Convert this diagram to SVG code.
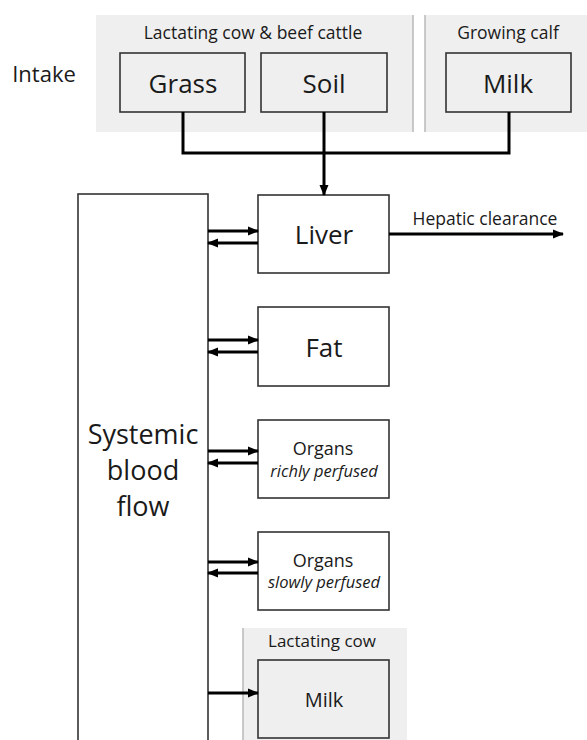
<svg xmlns="http://www.w3.org/2000/svg" width="587" height="740" viewBox="0 0 587 740">
<style>
text{font-family:"Open Sans","Liberation Sans",sans-serif;fill:#1a1a1a;text-anchor:middle}
.panel{fill:#efefef;stroke:none}
.div{stroke:#b8b8b8;stroke-width:1.5}
.box{stroke:#333;stroke-width:1.6;fill:#fff}
.gbox{stroke:#333;stroke-width:1.6;fill:#efefef}
.con{stroke:#000;stroke-width:3;fill:none}
.big{font-size:26px}
.mid{font-size:18px}
.sm{font-size:17.5px}
.it{font-size:16.5px;font-style:italic}
</style>
<defs>
<marker id="ah" markerWidth="11" markerHeight="10" refX="10" refY="5" orient="auto" markerUnits="userSpaceOnUse" viewBox="0 0 11 10">
<path d="M0,0.5 L11,5 L0,9.5 Z" fill="#000"/>
</marker>
</defs>

<g id="intake-label"><text x="44" y="82" style="font-size:22px">Intake</text></g>

<g id="panel-lactating-beef">
<rect class="panel" x="96" y="15" width="317" height="117"/>
<line class="div" x1="413" y1="15" x2="413" y2="132"/>
<text class="sm" x="253" y="39">Lactating cow &amp; beef cattle</text>
</g>
<g id="panel-growing-calf">
<rect class="panel" x="425" y="15" width="162" height="117"/>
<line class="div" x1="425" y1="15" x2="425" y2="132"/>
<text class="sm" x="508" y="39">Growing calf</text>
</g>

<g id="grass"><rect class="gbox" x="120" y="53" width="125" height="59"/><text class="big" x="183" y="93">Grass</text></g>
<g id="soil"><rect class="gbox" x="261" y="53" width="126" height="59"/><text class="big" x="324" y="93">Soil</text></g>
<g id="milk-intake"><rect class="gbox" x="446" y="53" width="125" height="59"/><text class="big" x="508" y="93">Milk</text></g>

<g id="blood"><rect class="box" x="78" y="194" width="130" height="560"/>
<text x="143" y="444" style="font-size:27px">Systemic</text>
<text x="143" y="480" style="font-size:27px">blood</text>
<text x="143" y="516" style="font-size:27px">flow</text>
</g>

<g id="liver"><rect class="box" x="258" y="195" width="131" height="78"/><text class="big" x="324" y="244">Liver</text></g>
<g id="fat"><rect class="box" x="258" y="307" width="131" height="79"/><text class="big" x="324" y="357">Fat</text></g>
<g id="organs-rich"><rect class="box" x="258" y="420" width="131" height="78"/>
<text class="mid" x="323" y="455">Organs</text><text class="it" x="324" y="477">richly perfused</text></g>
<g id="organs-slow"><rect class="box" x="258" y="532" width="131" height="78"/>
<text class="mid" x="323" y="567">Organs</text><text class="it" x="324" y="588">slowly perfused</text></g>

<g id="panel-lactating-cow">
<rect class="panel" x="243" y="628" width="164" height="112"/>
<line class="div" x1="243" y1="628" x2="243" y2="740"/>
<text x="322" y="647" style="font-size:17px">Lactating cow</text>
</g>
<g id="milk-out"><rect class="gbox" x="258" y="660" width="131" height="78"/><text style="font-size:20px" x="324" y="707">Milk</text></g>

<g id="hepatic-label"><text style="font-size:17.5px" x="485" y="225">Hepatic clearance</text></g>

<g id="connectors">
<polyline class="con" points="183,112 183,153 509,153 509,112"/>
<line class="con" x1="324" y1="112" x2="324" y2="195" marker-end="url(#ah)"/>
<line class="con" x1="389" y1="234" x2="563" y2="234" marker-end="url(#ah)"/>
<line class="con" x1="208" y1="231" x2="258" y2="231" marker-end="url(#ah)"/>
<line class="con" x1="258" y1="243" x2="208" y2="243" marker-end="url(#ah)"/>
<line class="con" x1="208" y1="340" x2="258" y2="340" marker-end="url(#ah)"/>
<line class="con" x1="258" y1="352" x2="208" y2="352" marker-end="url(#ah)"/>
<line class="con" x1="208" y1="451" x2="258" y2="451" marker-end="url(#ah)"/>
<line class="con" x1="258" y1="463" x2="208" y2="463" marker-end="url(#ah)"/>
<line class="con" x1="208" y1="562" x2="258" y2="562" marker-end="url(#ah)"/>
<line class="con" x1="258" y1="573" x2="208" y2="573" marker-end="url(#ah)"/>
<line class="con" x1="208" y1="693" x2="258" y2="693" marker-end="url(#ah)"/>
</g>
</svg>
